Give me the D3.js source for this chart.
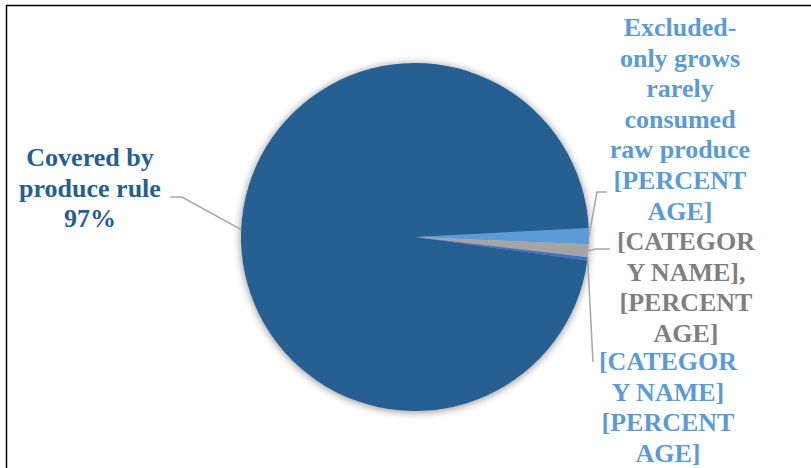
<!DOCTYPE html>
<html>
<head>
<meta charset="utf-8">
<script src="https://cdn.jsdelivr.net/npm/d3@7"></script>
<style>
  html, body { margin: 0; padding: 0; background: #ffffff; }
  svg { display: block; }
</style>
</head>
<body>
<svg id="chart" width="811" height="468"></svg>
<script>
// ---- Data (clockwise order, starting at the small slices) ----
const categories = [
  "Excluded-only grows rarely consumed raw produce",
  "[CATEGORY NAME]",
  "[CATEGORY NAME]",
  "Covered by produce rule"
];
const values = [1.5, 1.2, 0.3, 97];
const labelLines = [
  ["Excluded-", "only grows", "rarely", "consumed", "raw produce", "[PERCENT", "AGE]"],
  ["[CATEGOR", "Y NAME],", "[PERCENT", "AGE]"],
  ["[CATEGOR", "Y NAME]", "[PERCENT", "AGE]"],
  ["Covered by", "produce rule", "97%"]
];

// ---- Styles / layout ----
const sliceColors = ["#5B9BD5", "#A5A5A5", "#4472C4", "#255E91"];
const labelColors = ["#5B9BD5", "#7F7F7F", "#5B9BD5", "#255E91"];
const labelPos = [ {x: 680, y: 36}, {x: 686, y: 250}, {x: 668, y: 370}, {x: 90, y: 166} ];
const leaderKnee = [ [[607,192],[597,192]], [[610,249],[596,249]], [[593,362]], [[170,197],[182,197]] ];
const lineH = 30.6;
const cx = 415, cy = 237, R = 174;
const startDeg = 87;

const svg = d3.select("#chart");

// frame (top and left edges)
svg.append("path")
  .attr("d", "M6.5,468 L6.5,5.5 L811,5.5")
  .attr("fill", "none").attr("stroke", "#000").attr("stroke-width", 1.5);

const defs = svg.append("defs");
const f = defs.append("filter").attr("id", "shadow")
  .attr("x", "-20%").attr("y", "-20%").attr("width", "140%").attr("height", "140%");
f.append("feGaussianBlur").attr("in", "SourceAlpha").attr("stdDeviation", 4).attr("result", "b");
f.append("feOffset").attr("in", "b").attr("dx", 0).attr("dy", 1).attr("result", "o");
f.append("feComponentTransfer").attr("in", "o").attr("result", "s")
  .append("feFuncA").attr("type", "linear").attr("slope", 0.45);
const m = f.append("feMerge");
m.append("feMergeNode").attr("in", "s");
m.append("feMergeNode").attr("in", "SourceGraphic");

const data = categories.map((c, i) => ({ cat: c, value: values[i], i }));
const start = startDeg * Math.PI / 180;
const pie = d3.pie().value(d => d.value).sort(null)
  .startAngle(start).endAngle(start + 2 * Math.PI);
const arcs = pie(data);
const arc = d3.arc().innerRadius(0).outerRadius(R);

const g = svg.append("g").attr("transform", `translate(${cx},${cy})`);
g.append("g").attr("filter", "url(#shadow)")
  .selectAll("path").data(arcs).enter().append("path")
  .attr("d", arc)
  .attr("fill", d => sliceColors[d.data.i]);

// leader lines
arcs.forEach(a => {
  const mid = (a.startAngle + a.endAngle) / 2;
  const px = cx + R * Math.sin(mid), py = cy - R * Math.cos(mid);
  const pts = leaderKnee[a.data.i].concat([[px, py]]);
  svg.append("path")
    .attr("d", d3.line()(pts))
    .attr("fill", "none").attr("stroke", "#A6A6A6").attr("stroke-width", 1.5);
});

// labels
arcs.forEach(a => {
  const i = a.data.i;
  const t = svg.append("text")
    .attr("text-anchor", "middle")
    .attr("font-family", "'Liberation Serif', 'Times New Roman', serif")
    .attr("font-weight", "bold")
    .attr("font-size", 26)
    .attr("fill", labelColors[i]);
  labelLines[i].forEach((ln, k) => {
    t.append("tspan").attr("x", labelPos[i].x).attr("y", labelPos[i].y + k * lineH).text(ln);
  });
});
</script>
</body>
</html>
